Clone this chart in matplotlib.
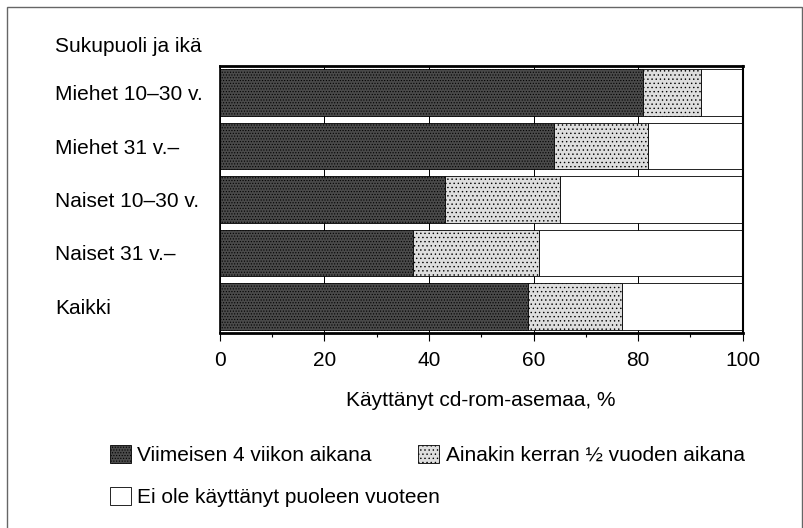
import matplotlib
matplotlib.use("Agg")
import matplotlib.pyplot as plt
from matplotlib.patches import Rectangle, Patch
from matplotlib.ticker import MultipleLocator

plt.rcParams['font.family'] = ['Liberation Sans', 'DejaVu Sans']
plt.rcParams['hatch.linewidth'] = 0.5

categories = ["Miehet 10–30 v.", "Miehet 31 v.–", "Naiset 10–30 v.", "Naiset 31 v.–", "Kaikki"]
recent = [81, 64, 43, 37, 59]          # Viimeisen 4 viikon aikana
halfyear = [11, 18, 22, 24, 18]        # Ainakin kerran ½ vuoden aikana
never = [8, 18, 35, 39, 23]            # Ei ole käyttänyt puoleen vuoteen
series_labels = ["Viimeisen 4 viikon aikana", "Ainakin kerran ½ vuoden aikana",
                 "Ei ole käyttänyt puoleen vuoteen"]
xticks = [0, 20, 40, 60, 80, 100]
title_text = "Sukupuoli ja ikä"
xlabel_text = "Käyttänyt cd-rom-asemaa, %"

W, H = 804, 528
fig = plt.figure(figsize=(W / 100, H / 100), dpi=100)
ax = fig.add_axes([220 / W, 1 - 333 / H, (742.5 - 220) / W, (333 - 66) / H])

dark = "#4a4a4a"
light = "#dedede"
white = "#ffffff"
dark_hatch = "......"
light_hatch = "...."
fs = 15

y = list(range(len(categories)))
left2 = [a for a in recent]
left3 = [a + b for a, b in zip(recent, halfyear)]
bh = 0.87
ax.barh(y, recent, height=bh, color=dark, edgecolor="black", hatch=dark_hatch, linewidth=0.6, zorder=2)
ax.barh(y, halfyear, left=left2, height=bh, color=light, edgecolor="black", hatch=light_hatch, linewidth=0.6, zorder=2)
ax.barh(y, never, left=left3, height=bh, color=white, edgecolor="black", linewidth=0.6, zorder=2)

ax.set_xlim(0, 100)
ax.set_ylim(len(categories) - 0.5, -0.5)
ax.set_xticks(xticks)
ax.xaxis.set_minor_locator(MultipleLocator(10))
ax.tick_params(axis="x", which="major", direction="out", length=6, width=0.8, labelsize=fs, pad=7)
ax.tick_params(axis="x", which="minor", direction="out", length=3, width=0.8)
ax.grid(axis="x", which="major", color="black", linewidth=0.7)
ax.set_axisbelow(True)

ax.set_yticks(y, categories)
ax.tick_params(axis="y", length=0, labelsize=fs, pad=(220 - 55) * 0.72)
for lab in ax.get_yticklabels():
    lab.set_horizontalalignment("left")

for side, lw in [("top", 2.0), ("bottom", 2.0), ("left", 1.2), ("right", 1.5)]:
    ax.spines[side].set_linewidth(lw)
    ax.spines[side].set_color("black")

ax.set_xlabel(xlabel_text, fontsize=fs, labelpad=15)

fig.text(55 / W, 1 - 47 / H, title_text, fontsize=fs, ha="left", va="center")

h_dark = Patch(facecolor=dark, edgecolor="black", hatch=dark_hatch, linewidth=0.6)
h_light = Patch(facecolor=light, edgecolor="black", hatch=light_hatch, linewidth=0.6)
h_white = Patch(facecolor=white, edgecolor="black", linewidth=0.6)
leg_kw = dict(frameon=False, fontsize=fs, handlelength=1.0, handleheight=1.0, handletextpad=0.3,
              borderpad=0, borderaxespad=0, loc="center left")
fig.legend([h_dark, h_light], [series_labels[0], series_labels[1]], ncol=2,
           bbox_to_anchor=(110 / W, 1 - 455 / H), columnspacing=2.25, **leg_kw)
fig.legend([h_white], [series_labels[2]], bbox_to_anchor=(110 / W, 1 - 497 / H), **leg_kw)

fig.add_artist(Rectangle((7 / W, -0.02), (802 - 7) / W, 1.02 - 7 / H, transform=fig.transFigure,
                         fill=False, edgecolor="#666666", linewidth=1.0))

fig.savefig("out.png", dpi=100)
